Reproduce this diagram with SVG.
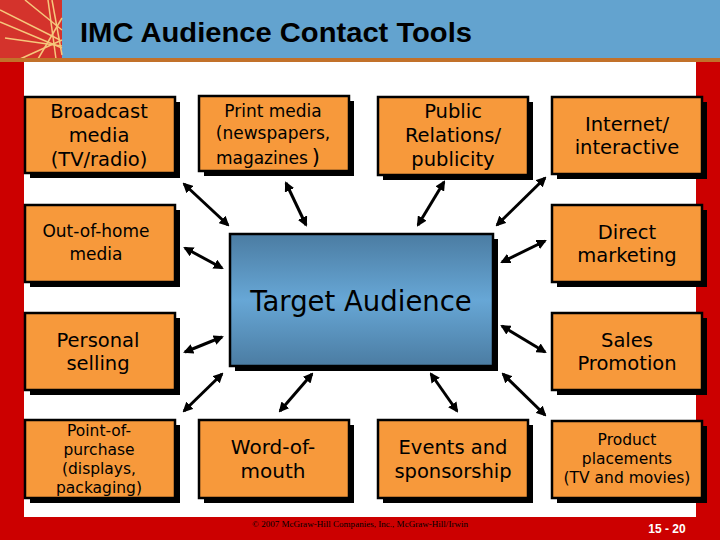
<svg xmlns="http://www.w3.org/2000/svg" width="720" height="540" viewBox="0 0 720 540">
<style>
.box{fill:#F7993B;stroke:#000;stroke-width:2.5}
.sh{fill:#000}
.t{font-family:"DejaVu Sans",Verdana,sans-serif;fill:#000;text-anchor:middle}
.arr{stroke:#000;stroke-width:3;fill:none;marker-start:url(#ah);marker-end:url(#ah)}
.logo{stroke:#F6C77C;stroke-width:1.5;fill:none}
</style>
<defs>
<marker id="ah" viewBox="0 0 10 10" refX="8" refY="5" markerWidth="3.4" markerHeight="3.4" orient="auto-start-reverse" markerUnits="strokeWidth">
<path d="M0,0 L10,5 L0,10 Z" fill="#000"/>
</marker>
<linearGradient id="cg" x1="0" y1="0" x2="0" y2="1">
<stop offset="0" stop-color="#4B7CA2"/>
<stop offset="0.5" stop-color="#67A7D6"/>
<stop offset="1" stop-color="#4B7CA2"/>
</linearGradient>
</defs>
<g id="background">
<rect x="0" y="0" width="720" height="540" fill="#fff"/>
<rect x="0" y="0" width="720" height="59" fill="#63A3CF"/>
<rect x="0" y="0" width="62" height="59" fill="#D4332C"/>
<g class="logo">
<line x1="25" y1="0" x2="62" y2="30"/>
<line x1="0" y1="22" x2="62" y2="48"/>
<line x1="0" y1="10" x2="60" y2="40"/>
<line x1="48" y1="0" x2="56" y2="59"/>
<line x1="52" y1="0" x2="62" y2="55"/>
<line x1="20" y1="59" x2="62" y2="40"/>
<line x1="5" y1="38" x2="62" y2="46"/>
<line x1="38" y1="59" x2="62" y2="18"/>
</g>
<rect x="0" y="58" width="720" height="4" fill="#C2712A"/>
<rect x="0" y="62" width="24" height="478" fill="#CC0000"/>
<rect x="696" y="62" width="24" height="478" fill="#CC0000"/>
<rect x="0" y="517" width="720" height="23" fill="#CC0000"/>
<text x="80" y="42" font-family="'Liberation Sans',Arial,sans-serif" font-weight="bold" font-size="28" textLength="392" lengthAdjust="spacingAndGlyphs" fill="#000">IMC Audience Contact Tools</text>
<text x="360" y="527" font-family="'Liberation Serif',serif" font-size="8" text-anchor="middle" textLength="216" lengthAdjust="spacingAndGlyphs" fill="#000">© 2007 McGraw-Hill Companies, Inc., McGraw-Hill/Irwin</text>
<text x="667" y="533" font-family="'Liberation Sans',Arial,sans-serif" font-weight="bold" font-size="12" text-anchor="middle" fill="#fff">15 - 20</text>
</g>
<g id="connectors">
<line class="arr" x1="184" y1="184" x2="228" y2="225"/>
<line class="arr" x1="286" y1="183" x2="306" y2="225"/>
<line class="arr" x1="444" y1="182" x2="418" y2="225"/>
<line class="arr" x1="545" y1="178" x2="497" y2="225"/>
<line class="arr" x1="185" y1="248" x2="222" y2="268"/>
<line class="arr" x1="545" y1="241" x2="502" y2="262"/>
<line class="arr" x1="185" y1="352" x2="222" y2="337"/>
<line class="arr" x1="502" y1="326" x2="545" y2="352"/>
<line class="arr" x1="184" y1="411" x2="222" y2="374"/>
<line class="arr" x1="280" y1="411" x2="312" y2="374"/>
<line class="arr" x1="431" y1="374" x2="457" y2="411"/>
<line class="arr" x1="503" y1="374" x2="545" y2="415"/>
</g>
<g id="target">
<rect x="235" y="239" width="263" height="132" class="sh"/>
<rect x="230" y="234" width="263" height="132" fill="url(#cg)" stroke="#000" stroke-width="2.5"/>
<text class="t" x="361" y="311" font-size="27.5" fill="#000">Target Audience</text>
</g>
<g id="broadcast">
<rect x="30" y="102" width="150" height="76" class="sh"/>
<rect x="25" y="97" width="150" height="76" class="box"/>
<text class="t" font-size="19.5"><tspan x="99" y="118">Broadcast</tspan><tspan x="99" y="142">media</tspan><tspan x="99" y="166">(TV/radio)</tspan></text>
</g>
<g id="print">
<rect x="204" y="101" width="150" height="75" class="sh"/>
<rect x="199" y="96" width="150" height="75" class="box"/>
<text class="t" font-size="17"><tspan x="273" y="117">Print media</tspan><tspan x="273" y="139">(newspapers,</tspan><tspan x="268" y="164">magazines</tspan><tspan font-size="21" dx="4" dy="0">)</tspan></text>
</g>
<g id="pr">
<rect x="383" y="102" width="150" height="78" class="sh"/>
<rect x="378" y="97" width="150" height="78" class="box"/>
<text class="t" font-size="19.5"><tspan x="453" y="118">Public</tspan><tspan x="453" y="142">Relations/</tspan><tspan x="453" y="166">publicity</tspan></text>
</g>
<g id="internet">
<rect x="557" y="102" width="150" height="77" class="sh"/>
<rect x="552" y="97" width="150" height="77" class="box"/>
<text class="t" font-size="19.5"><tspan x="627" y="131">Internet/</tspan><tspan x="627" y="154">interactive</tspan></text>
</g>
<g id="outofhome">
<rect x="30" y="210" width="150" height="77" class="sh"/>
<rect x="25" y="205" width="150" height="77" class="box"/>
<text class="t" font-size="17"><tspan x="96" y="237">Out-of-home</tspan><tspan x="96" y="260">media</tspan></text>
</g>
<g id="direct">
<rect x="557" y="210" width="150" height="77" class="sh"/>
<rect x="552" y="205" width="150" height="77" class="box"/>
<text class="t" font-size="19.5"><tspan x="627" y="239">Direct</tspan><tspan x="627" y="262">marketing</tspan></text>
</g>
<g id="personal">
<rect x="30" y="318" width="150" height="77" class="sh"/>
<rect x="25" y="313" width="150" height="77" class="box"/>
<text class="t" font-size="19.5"><tspan x="98" y="347">Personal</tspan><tspan x="98" y="370">selling</tspan></text>
</g>
<g id="sales">
<rect x="557" y="318" width="150" height="77" class="sh"/>
<rect x="552" y="313" width="150" height="77" class="box"/>
<text class="t" font-size="19.5"><tspan x="627" y="347">Sales</tspan><tspan x="627" y="370">Promotion</tspan></text>
</g>
<g id="pop">
<rect x="30" y="425" width="150" height="78" class="sh"/>
<rect x="25" y="420" width="150" height="78" class="box"/>
<text class="t" font-size="15.5"><tspan x="99" y="436">Point-of-</tspan><tspan x="99" y="455">purchase</tspan><tspan x="99" y="474">(displays,</tspan><tspan x="99" y="493">packaging)</tspan></text>
</g>
<g id="wom">
<rect x="204" y="425" width="150" height="78" class="sh"/>
<rect x="199" y="420" width="150" height="78" class="box"/>
<text class="t" font-size="20"><tspan x="273" y="454">Word-of-</tspan><tspan x="273" y="478">mouth</tspan></text>
</g>
<g id="events">
<rect x="383" y="425" width="150" height="78" class="sh"/>
<rect x="378" y="420" width="150" height="78" class="box"/>
<text class="t" font-size="19.5"><tspan x="453" y="454">Events and</tspan><tspan x="453" y="478">sponsorship</tspan></text>
</g>
<g id="product">
<rect x="557" y="426" width="150" height="77" class="sh"/>
<rect x="552" y="421" width="150" height="77" class="box"/>
<text class="t" font-size="15.5"><tspan x="627" y="445">Product</tspan><tspan x="627" y="464">placements</tspan><tspan x="627" y="483">(TV and movies)</tspan></text>
</g>
</svg>
